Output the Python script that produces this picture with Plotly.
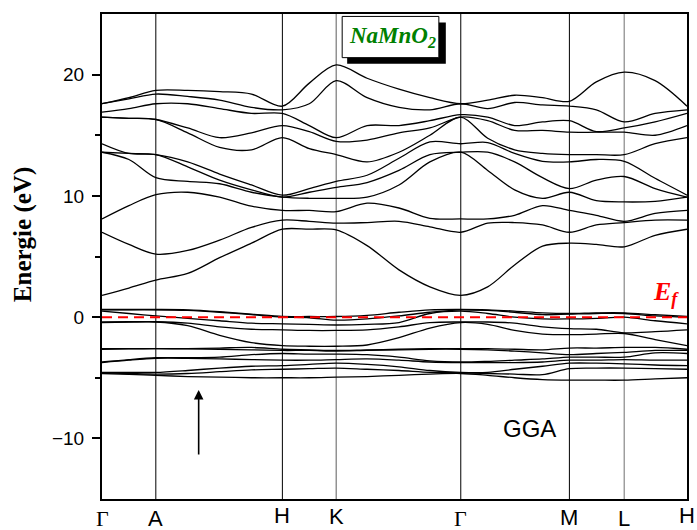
import plotly.graph_objects as go

# k-path sample positions (path length units) and high-symmetry points
k_grid = [0, 27, 54, 86, 118, 150, 181, 208, 235, 266, 298, 329, 360, 387, 414, 442, 469, 496, 524, 555, 587]
sym_pos = [0, 54, 181, 235, 360, 469, 524, 587]
sym_labels = ["Γ", "A", "H", "K", "Γ", "M", "L", "H"]
sym_serif = [True, False, False, False, True, False, False, False]
sym_line_color = ["black", "black", "black", "#777777", "black", "black", "#888888", "black"]

# conduction band energies (eV) at each k_grid point
cond_levels = [
    [1.8, 7.0, 8.1, 13.6, 13.6, 14.3, 16.5, 16.5, 16.9, 17.6, 17.6],
    [2.4, 6.0, 9.2, 13.0, 13.5, 13.5, 16.4, 16.4, 17.2, 18.0, 18.1],
    [3.05, 5.2, 10.1, 11.5, 13.4, 13.4, 16.3, 16.3, 17.6, 18.4, 18.7],
    [3.6, 5.5, 10.3, 11.2, 12.4, 12.8, 15.2, 15.6, 17.6, 18.2, 18.7],
    [4.9, 6.35, 9.9, 11.0, 11.3, 11.8, 14.0, 14.8, 17.2, 17.9, 18.6],
    [6.1, 7.4, 9.15, 10.3, 10.5, 10.9, 13.8, 15.2, 16.8, 17.3, 18.4],
    [7.25, 8.0, 8.8, 9.9, 9.9, 10.06, 14.8, 15.8, 16.8, 17.1, 17.4],
    [7.25, 7.9, 8.8, 9.8, 10.3, 10.6, 13.9, 15.3, 15.8, 17.6, 19.3],
    [7.2, 7.75, 8.7, 9.8, 10.7, 11.2, 13.4, 14.5, 14.8, 19.5, 20.8],
    [5.9, 7.8, 9.4, 9.9, 11.1, 11.7, 12.8, 14.6, 15.8, 18.1, 19.7],
    [3.9, 7.9, 9.0, 10.9, 12.1, 13.1, 13.6, 15.2, 15.8, 17.3, 18.8],
    [2.5, 7.45, 8.15, 12.8, 13.4, 14.45, 15.0, 15.6, 16.2, 17.1, 18.1],
    [1.8, 7.0, 8.1, 13.6, 13.6, 14.3, 16.5, 16.5, 16.7, 17.6, 17.6],
    [2.5, 7.75, 8.1, 12.1, 13.6, 14.4, 14.75, 16.2, 16.5, 17.2, 17.9],
    [4.3, 7.8, 8.4, 10.5, 12.8, 13.5, 13.8, 15.4, 15.8, 17.7, 18.3],
    [5.85, 7.6, 9.2, 9.8, 11.5, 12.85, 13.5, 15.4, 16.1, 17.5, 18.1],
    [6.1, 7.0, 8.8, 10.3, 10.6, 12.8, 13.4, 15.25, 16.2, 17.4, 17.8],
    [6.0, 7.6, 8.4, 9.6, 11.3, 13.0, 13.4, 15.25, 15.3, 17.1, 19.4],
    [5.8, 7.8, 7.9, 9.5, 11.6, 12.85, 13.4, 15.25, 15.6, 16.1, 20.2],
    [6.75, 8.0, 8.55, 9.55, 10.6, 11.45, 14.3, 15.0, 16.1, 16.8, 19.5],
    [7.25, 8.0, 8.8, 9.9, 9.9, 10.06, 14.8, 15.8, 16.8, 17.1, 17.4],
]

# valence band energies (eV) at each k_grid point
val_levels = [
    [0.63, 0.6, 0.5, -0.4, -0.45, -2.6, -2.65, -3.7, -3.75, -4.55, -4.6, -4.65],
    [0.63, 0.6, 0.3, -0.38, -0.42, -2.6, -2.62, -3.5, -3.55, -4.55, -4.65, -4.72],
    [0.63, 0.6, 0.1, -0.38, -0.4, -2.6, -2.6, -3.35, -3.4, -4.56, -4.7, -4.8],
    [0.6, 0.55, -0.1, -0.5, -0.7, -2.6, -2.62, -3.35, -3.4, -4.4, -4.65, -4.9],
    [0.45, 0.4, -0.3, -0.8, -1.5, -2.55, -2.65, -3.3, -3.45, -4.2, -4.5, -4.95],
    [0.25, 0.2, -0.5, -1.0, -2.1, -2.5, -2.7, -3.1, -3.5, -4.05, -4.35, -5.0],
    [0.05, 0.0, -0.55, -1.05, -2.35, -2.65, -2.75, -3.0, -3.55, -4.0, -4.3, -5.0],
    [0.05, -0.05, -0.6, -1.1, -2.4, -2.7, -2.75, -3.05, -3.55, -3.9, -4.25, -5.0],
    [0.05, -0.25, -0.65, -1.1, -2.4, -2.75, -2.8, -3.05, -3.5, -3.8, -4.2, -4.95],
    [0.15, -0.15, -0.6, -1.05, -2.3, -2.7, -2.75, -3.1, -3.45, -3.9, -4.3, -4.9],
    [0.4, 0.1, -0.45, -0.8, -1.7, -2.65, -2.7, -3.3, -3.55, -4.1, -4.4, -4.8],
    [0.6, 0.4, 0.3, -0.45, -0.9, -2.6, -2.65, -3.6, -3.7, -4.4, -4.55, -4.7],
    [0.63, 0.6, 0.5, -0.4, -0.45, -2.6, -2.65, -3.7, -3.75, -4.55, -4.6, -4.65],
    [0.6, 0.55, 0.3, -0.4, -0.6, -2.6, -2.7, -3.65, -3.75, -4.55, -4.65, -4.8],
    [0.5, 0.4, 0.0, -0.5, -1.1, -2.65, -2.8, -3.55, -3.75, -4.3, -4.7, -5.0],
    [0.35, 0.2, -0.15, -0.8, -1.4, -2.7, -2.95, -3.45, -3.7, -4.05, -4.75, -5.15],
    [0.3, 0.25, -0.15, -0.95, -1.45, -2.55, -3.1, -3.3, -3.55, -3.8, -4.25, -5.2],
    [0.35, 0.3, -0.1, -1.0, -1.4, -2.55, -3.0, -3.3, -3.55, -3.8, -4.2, -5.2],
    [0.35, 0.3, 0.0, -1.3, -1.35, -2.5, -2.9, -3.3, -3.5, -3.85, -4.2, -5.2],
    [0.2, 0.1, -0.3, -1.2, -1.85, -2.5, -2.75, -2.95, -3.55, -3.95, -4.25, -5.1],
    [0.05, 0.0, -0.55, -1.05, -2.35, -2.65, -2.75, -3.0, -3.55, -4.0, -4.3, -5.0],
]

E_fermi = 0.0
y_major = [-10, 0, 10, 20]
y_minor = [-5, 5, 15]

fig = go.Figure()

def add_bands(levels):
    rows = [sorted(r) for r in levels]
    nb = len(rows[0])
    for i in range(nb):
        fig.add_trace(go.Scatter(
            x=k_grid, y=[r[i] for r in rows], mode="lines",
            line=dict(color="black", width=1.3, shape="spline", smoothing=0.9),
            hoverinfo="skip", showlegend=False))

add_bands(cond_levels)
add_bands(val_levels)

fig.add_trace(go.Scatter(
    x=[k_grid[0], k_grid[-1]], y=[E_fermi, E_fermi], mode="lines",
    line=dict(color="red", width=2, dash="10px,6px"),
    hoverinfo="skip", showlegend=False))

sans = "Liberation Sans, Arial, sans-serif"
serif = "Liberation Serif, Times New Roman, serif"

annotations = []
label_shift = [-19, -19, -16, -17, -19, -18, -19, -16]
for pos, lab, isserif, sh in zip(sym_pos, sym_labels, sym_serif, label_shift):
    annotations.append(dict(
        x=pos, y=0, xref="x", yref="paper", text=lab, showarrow=False,
        xanchor="center", yanchor="middle", yshift=sh,
        font=dict(family=serif if isserif else sans, size=22, color="black")))

annotations.append(dict(
    x=0, y=0.544, xref="paper", yref="paper", xanchor="center", yanchor="middle",
    xshift=-79, textangle=-90, showarrow=False,
    text="<b>Energie (eV)</b>", font=dict(family=serif, size=25, color="black")))

annotations.append(dict(
    x=291, y=23.1, xref="x", yref="y", showarrow=False,
    text="<b><i>NaMnO<sub>2</sub></i></b>",
    font=dict(family=serif, size=23, color="#008000")))

annotations.append(dict(
    x=566, y=2.0, xref="x", yref="y", showarrow=False,
    text="<b><i>E<sub>f</sub></i></b>",
    font=dict(family=serif, size=26, color="red")))

annotations.append(dict(
    x=429, y=-9.15, xref="x", yref="y", showarrow=False, text="GGA",
    font=dict(family=sans, size=24, color="black")))

annotations.append(dict(
    x=97, y=-6.0, ax=97, ay=-11.45, xref="x", yref="y", axref="x", ayref="y",
    text="", showarrow=True, arrowhead=2, arrowsize=1.2, arrowwidth=1.6,
    arrowcolor="black"))

shapes = []
for pos, col in zip(sym_pos[1:-1], sym_line_color[1:-1]):
    shapes.append(dict(type="line", xref="x", yref="paper", x0=pos, x1=pos, y0=0, y1=1,
                       line=dict(color=col, width=1.2 if col != "black" else 1), layer="below"))
shapes += [
    dict(type="rect", xref="x", yref="y", x0=246, x1=345, y0=20.9, y1=24.3,
         fillcolor="black", line=dict(width=0), layer="above"),
    dict(type="rect", xref="x", yref="y", x0=241, x1=338, y0=21.4, y1=24.8,
         fillcolor="white", line=dict(color="black", width=1), layer="above"),
]

fig.update_layout(
    width=697, height=530,
    margin=dict(l=102, r=8, t=14, b=31),
    paper_bgcolor="white", plot_bgcolor="white",
    showlegend=False,
    annotations=annotations,
    shapes=shapes,
    xaxis=dict(range=[0, 587], showticklabels=False, ticks="",
               showgrid=False,
               showline=True, linecolor="black", linewidth=2, mirror=True,
               zeroline=False),
    yaxis=dict(range=[-15, 25], tickvals=y_major, ticks="outside", ticklen=8,
               tickwidth=1.5, tickcolor="black", ticklabelstandoff=4,
               tickfont=dict(family=sans, size=19, color="black"),
               minor=dict(tickvals=y_minor, ticks="outside", ticklen=5,
                          tickwidth=1.5, tickcolor="black", showgrid=False),
               showgrid=False, zeroline=False,
               showline=True, linecolor="black", linewidth=2, mirror=True),
)

fig.write_html("out.html")
